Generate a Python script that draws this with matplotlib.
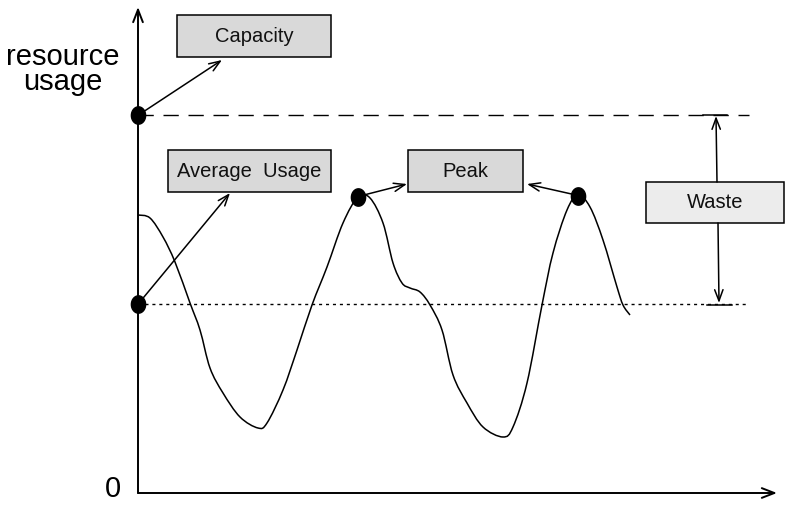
import matplotlib
matplotlib.use("Agg")
import matplotlib.pyplot as plt
from matplotlib.patches import Rectangle, PathPatch
from matplotlib.path import Path
import numpy as np

# ---- data (x = time, y = resource usage, arbitrary units; origin at axes corner) ----
time = [0, 12, 25, 37, 52, 62, 72, 85, 102, 120, 129, 145, 159, 174, 189, 205, 220,
        232, 245, 255, 264, 272, 282, 292, 304, 315, 329, 345, 365, 375, 389, 404,
        415, 429, 440, 452, 465, 479, 485, 492]
usage = [278, 275, 256, 231, 190, 163, 125, 100, 76, 65, 70, 103, 143, 188, 226, 270, 296,
         295, 270, 230, 210, 205, 201, 188, 163, 118, 90, 66, 56, 66, 110, 188,
         240, 283, 298, 286, 253, 206, 188, 178]
capacity = 378
average = 189
peak_points = [(220, 296), (440, 297)]
line_end = 611           # where the reference lines stop
x_axis_end = 639
y_axis_end = 486

box_labels = ["Capacity", "Average  Usage", "Peak", "Waste"]

# ---- figure ----
W, H = 788, 511
OX, OY = 138, 493  # pixel position of origin
fig = plt.figure(figsize=(W / 100, H / 100), dpi=100)
ax = fig.add_axes([0, 0, 1, 1])
ax.set_xlim(-OX, W - OX)
ax.set_ylim(OY - H, OY)
ax.axis("off")

def P(px, py):
    """pixel layout position -> data coords"""
    return (px - OX, OY - py)

FONT = "Liberation Sans"

# axes arrows
ax.annotate("", xy=(x_axis_end, 0), xytext=(0, 0),
            arrowprops=dict(arrowstyle="->,head_length=0.9,head_width=0.35", lw=1.4, color="black",
                            shrinkA=0, shrinkB=0))
ax.annotate("", xy=(0, y_axis_end), xytext=(0, 0),
            arrowprops=dict(arrowstyle="->,head_length=0.9,head_width=0.35", lw=1.4, color="black",
                            shrinkA=0, shrinkB=0))

# reference lines
ax.plot([0, line_end], [capacity, capacity], color="black", lw=1.0, dashes=(11, 7))
ax.plot([0, line_end], [average, average], color="black", lw=1.0, dashes=(2.2, 2.8))

# usage curve: smooth Bezier path passing through the read points
pts = np.column_stack([time, usage]).astype(float)
verts = [pts[0]]
codes = [Path.MOVETO]
n = len(pts)
for i in range(n - 1):
    p0 = pts[i - 1] if i > 0 else pts[i]
    p1 = pts[i]
    p2 = pts[i + 1]
    p3 = pts[i + 2] if i + 2 < n else pts[i + 1]
    c1 = p1 + (p2 - p0) / 6.0
    c2 = p2 - (p3 - p1) / 6.0
    verts += [c1, c2, p2]
    codes += [Path.CURVE4] * 3
ax.add_patch(PathPatch(Path(verts, codes), fill=False, edgecolor="black", lw=1.1,
                       joinstyle="round"))

# dots (slightly tall ellipses)
theta = np.linspace(0, 2 * np.pi, 50)
ell = Path(np.column_stack([0.82 * np.cos(theta), np.sin(theta)]), closed=True)
dots_x = [0, 0] + [p[0] for p in peak_points]
dots_y = [capacity, average] + [p[1] for p in peak_points]
ax.plot(dots_x, dots_y, linestyle="none", marker=ell, ms=12.5, color="black", zorder=5)

# boxes
def box(x0, y0, x1, y1, label, fc):
    (dx0, dy0) = P(x0, y1)
    ax.add_patch(Rectangle((dx0, dy0), x1 - x0, y1 - y0, facecolor=fc, edgecolor="black",
                           lw=1.1, zorder=3))
    cx, cy = P((x0 + x1) / 2, (y0 + y1) / 2)
    ax.text(cx, cy, label, ha="center", va="center", fontsize=14.5, family=FONT, zorder=4,
            color="#111111")

box(177, 15, 331, 57, box_labels[0], "#d9d9d9")
box(168, 150, 331, 192, box_labels[1], "#d9d9d9")
box(408, 150, 523, 192, box_labels[2], "#d9d9d9")
box(646, 182, 784, 223, box_labels[3], "#ececec")

# arrows
aprops = dict(arrowstyle="->,head_length=0.8,head_width=0.3", lw=1.1, color="black",
              shrinkA=0, shrinkB=0)
def arrow(p_from, p_to):
    ax.annotate("", xy=P(*p_to), xytext=P(*p_from), arrowprops=aprops, zorder=4)

arrow((140, 114), (222, 60))
arrow((139, 303), (230, 193))
arrow((360, 196), (407, 184))
arrow((576, 195), (527, 184))
arrow((717, 182), (716, 116))
arrow((718, 223), (719, 303))
# small end bars of the waste span
ax.plot(*zip(P(703, 115), P(727, 115)), color="black", lw=1.1)
ax.plot(*zip(P(707, 305), P(732, 305)), color="black", lw=1.1)

# axis labels
ax.text(*P(63, 90), "resource\nusage", ha="center", va="baseline", ma="center",
        fontsize=21, family=FONT, linespacing=0.86)
ax.text(*P(113, 497), "0", ha="center", va="baseline", fontsize=21, family=FONT)

fig.savefig("out.png", dpi=100)
